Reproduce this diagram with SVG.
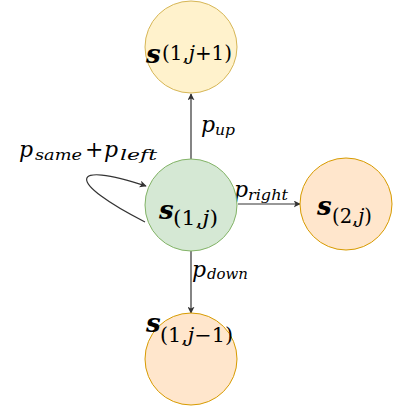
<svg xmlns="http://www.w3.org/2000/svg" width="393" height="406" viewBox="0 0 393 406">
<style>
.y{fill:#fff2cc;stroke:#d6b656;stroke-width:1}
.g{fill:#d5e8d4;stroke:#82b366;stroke-width:1}
.o{fill:#ffe6cc;stroke:#d79b00;stroke-width:1}
.s{font-family:"DejaVu Serif","Liberation Serif",serif;font-style:italic;font-weight:bold;font-size:26px;fill:#000}
.sub{font-family:"DejaVu Serif","Liberation Serif",serif;font-size:20px;fill:#000}
.it{font-style:italic}
.p{font-family:"DejaVu Serif","Liberation Serif",serif;font-style:italic;font-size:22px;fill:#000}
.ps{font-family:"DejaVu Serif","Liberation Serif",serif;font-style:italic;font-size:15px;fill:#000}
.e{fill:none;stroke:#333;stroke-width:1.2}
</style>
<defs>
<marker id="a" viewBox="0 0 10 10" refX="9" refY="5" markerWidth="7" markerHeight="7" markerUnits="userSpaceOnUse" orient="auto">
<path d="M0,0 L10,5 L0,10 L2.5,5 Z" fill="#333"/>
</marker>
</defs>
<g id="connectors">
<path class="e" d="M191,159 L191,94" marker-end="url(#a)"/>
<path class="e" d="M238,204 L300,204" marker-end="url(#a)"/>
<path class="e" d="M191,251 L191,313" marker-end="url(#a)"/>
<path class="e" d="M145,222 C66,182 68,160 146,186" marker-end="url(#a)"/>
<text class="p" x="201" y="132">p</text><text class="ps" x="215" y="135" textLength="20" lengthAdjust="spacingAndGlyphs">up</text>
<text class="p" x="234" y="197">p</text><text class="ps" x="248" y="200" textLength="40" lengthAdjust="spacingAndGlyphs">right</text>
<text class="p" x="192" y="277">p</text><text class="ps" x="207" y="279" textLength="41" lengthAdjust="spacingAndGlyphs">down</text>
<text class="p" x="19" y="157">p</text><text class="ps" x="35" y="160" textLength="47" lengthAdjust="spacingAndGlyphs">same</text>
<text class="p" x="85" y="157" font-style="normal">+</text>
<text class="p" x="104" y="157">p</text><text class="ps" x="120" y="160" textLength="37" lengthAdjust="spacingAndGlyphs">left</text>
</g>
<g id="n_top">
<circle class="y" cx="191" cy="47" r="46"/>
<text class="s" x="146" y="63">s</text>
<text class="sub" x="162" y="60" textLength="70" lengthAdjust="spacingAndGlyphs">(1,<tspan class="it">j</tspan>+1)</text>
</g>
<g id="n_center">
<circle class="g" cx="191" cy="205" r="46"/>
<text class="s" x="159" y="219">s</text>
<text class="sub" x="173" y="225" textLength="45" lengthAdjust="spacingAndGlyphs">(1,<tspan class="it">j</tspan>)</text>
</g>
<g id="n_right">
<circle class="o" cx="346" cy="204" r="46"/>
<text class="s" x="317" y="215">s</text>
<text class="sub" x="332" y="223" textLength="40" lengthAdjust="spacingAndGlyphs">(2,<tspan class="it">j</tspan>)</text>
</g>
<g id="n_bottom">
<circle class="o" cx="191" cy="359" r="46"/>
<text class="s" x="146" y="332">s</text>
<text class="sub" x="160" y="342" textLength="73" lengthAdjust="spacingAndGlyphs">(1,<tspan class="it">j</tspan>−1)</text>
</g>
</svg>
